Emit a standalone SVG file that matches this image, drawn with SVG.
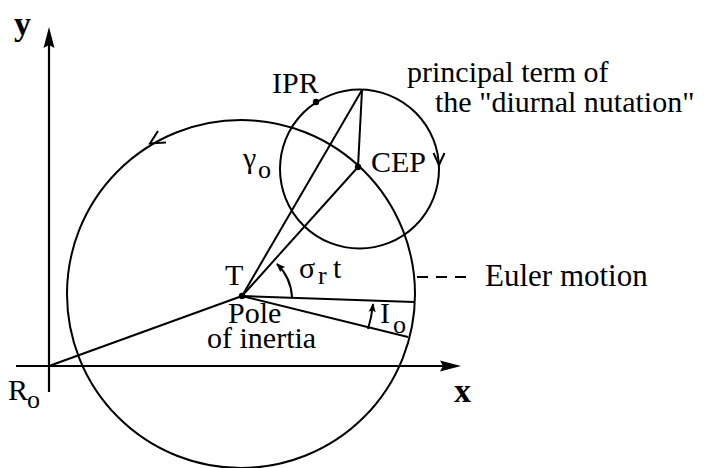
<svg xmlns="http://www.w3.org/2000/svg" width="704" height="468" viewBox="0 0 704 468">
<style>
  .ln{fill:none;stroke:#000;stroke-width:2}
  .ax{fill:none;stroke:#000;stroke-width:2.2}
  .t{font-family:"Liberation Serif","Times New Roman",serif;font-size:30px;fill:#000}
  .s{font-size:26px}
  .b{font-family:"Liberation Serif","Times New Roman",serif;font-size:34px;font-weight:bold;fill:#000}
  .dot{fill:#000}
</style>
<defs>
  <marker id="fa" viewBox="0 0 10 10" refX="9" refY="5" markerWidth="9" markerHeight="9" markerUnits="userSpaceOnUse" orient="auto">
    <path d="M0,1 L10,5 L0,9 L2,5 Z" fill="#000"/>
  </marker>
</defs>
<rect width="704" height="468" fill="#fff"/>

<g id="axes">
  <line class="ax" x1="49" y1="392" x2="49" y2="34"/>
  <path d="M49,27 L54.5,48 L49,45 L43.5,48 Z" fill="#000"/>
  <line class="ax" x1="16" y1="366" x2="454" y2="366"/>
  <path d="M461,366 L440,360.5 L443,366 L440,371.5 Z" fill="#000"/>
  <text class="b" x="14" y="35">y</text>
  <text class="b" x="454" y="402">x</text>
  <text class="t" x="8" y="400">R<tspan class="s" x="27" y="408">o</tspan></text>
</g>

<g id="euler-circle">
  <circle class="ln" cx="241" cy="294" r="174"/>
  <path class="ln" d="M158,131 L150,143.5 L166,142.5"/>
</g>

<g id="nutation-circle">
  <circle class="ln" cx="359.5" cy="169" r="79.5"/>
  <path class="ln" d="M433.5,153 L439,165 L444.5,153"/>
</g>

<g id="connectors">
  <line class="ln" x1="49" y1="366" x2="242" y2="296"/>
  <line class="ln" x1="242" y1="296" x2="414" y2="302"/>
  <line class="ln" x1="242" y1="296" x2="408" y2="337"/>
  <line class="ln" x1="242" y1="296" x2="358" y2="167"/>
  <line class="ln" x1="242" y1="296" x2="362" y2="90"/>
  <line class="ln" x1="362" y1="90" x2="358" y2="167"/>
  <path class="ln" d="M292,297 A50,50 0 0 0 277,264" marker-end="url(#fa)"/>
  <path class="ln" d="M368,329 A131,131 0 0 0 373,304" marker-end="url(#fa)"/>
  <line class="ln" x1="417" y1="277" x2="470" y2="277" stroke-dasharray="11,8"/>
</g>

<g id="T">
  <circle class="dot" cx="242" cy="296" r="3.2"/>
  <text class="t" x="225" y="285">T</text>
  <text class="t" x="228" y="323">Pole</text>
  <text class="t" x="207" y="348">of inertia</text>
</g>

<g id="CEP">
  <circle class="dot" cx="358" cy="167" r="3.2"/>
  <text class="t" x="371" y="172">CEP</text>
</g>

<g id="IPR">
  <circle class="dot" cx="316" cy="102" r="3.2"/>
  <text class="t" x="272" y="93">IPR</text>
</g>

<g id="labels">
  <text class="t" x="243" y="168">γ<tspan class="s" x="258" y="178">o</tspan></text>
  <text class="t" x="299" y="278">σ<tspan class="s" x="318" y="284">r</tspan><tspan x="333" y="278">t</tspan></text>
  <text class="t" x="380" y="323">I<tspan class="s" x="393" y="333">o</tspan></text>
  <text class="t" x="407" y="82">principal term of</text>
  <text class="t" x="435" y="112">the "diurnal nutation"</text>
  <text class="t" x="485" y="286" style="font-size:31px">Euler motion</text>
</g>
</svg>
